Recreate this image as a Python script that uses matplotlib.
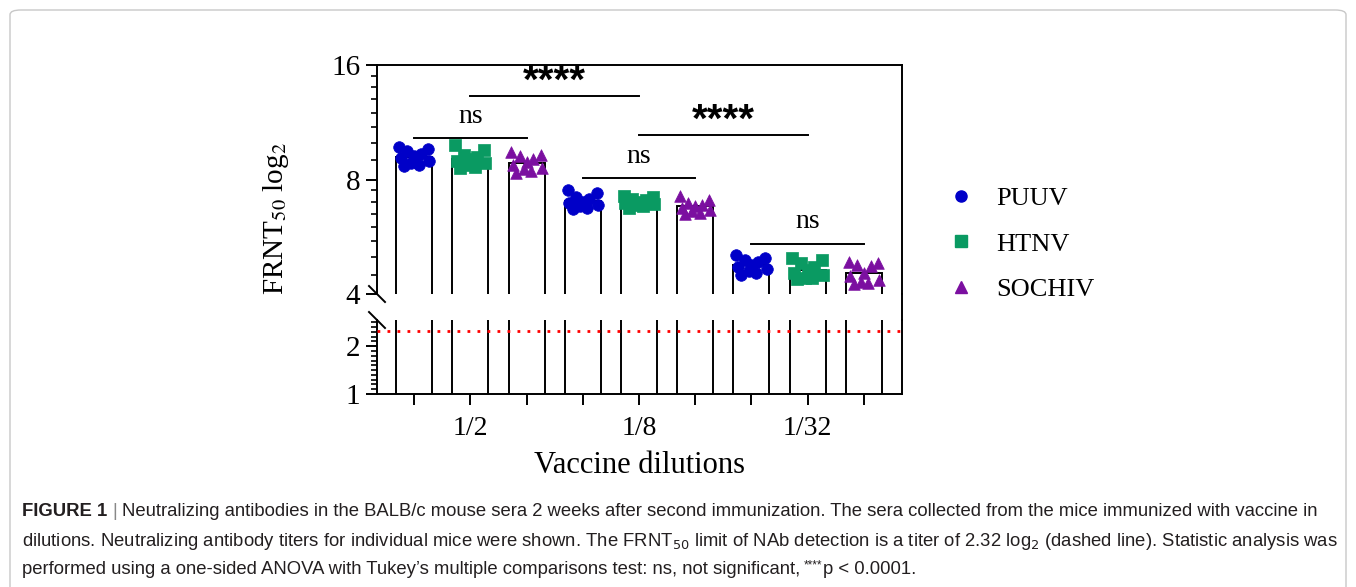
import numpy as np
import matplotlib
matplotlib.use("Agg")
import matplotlib.pyplot as plt
from matplotlib.lines import Line2D
from matplotlib.patches import FancyBboxPatch
from matplotlib.ticker import FixedLocator, NullFormatter

plt.rcParams['font.family'] = ['Liberation Serif', 'DejaVu Serif']
plt.rcParams['mathtext.fontset'] = 'stix'

# ---- data (FRNT50 log2 titers per mouse) ----
dilutions = ['1/2', '1/8', '1/32']
viruses = ['PUUV', 'HTNV', 'SOCHIV']

puuv = [
    [9.75, 9.6, 9.5, 9.35, 9.2, 9.1, 8.95, 8.85, 8.75, 8.7],
    [7.5, 7.35, 7.2, 7.1, 7.0, 6.95, 6.85, 6.8, 6.75, 6.7],
    [5.05, 4.98, 4.9, 4.85, 4.78, 4.72, 4.65, 4.6, 4.55, 4.5],
]
htnv = [
    [9.85, 9.55, 9.3, 9.15, 9.05, 8.95, 8.85, 8.75, 8.65, 8.6],
    [7.25, 7.2, 7.1, 7.05, 7.0, 6.95, 6.9, 6.85, 6.8, 6.75],
    [4.98, 4.9, 4.82, 4.7, 4.62, 4.55, 4.48, 4.42, 4.4, 4.38],
]
sochiv = [
    [9.45, 9.3, 9.2, 9.05, 8.9, 8.75, 8.6, 8.5, 8.4, 8.3],
    [7.25, 7.05, 6.95, 6.85, 6.8, 6.75, 6.65, 6.6, 6.55, 6.5],
    [4.85, 4.82, 4.78, 4.75, 4.55, 4.45, 4.35, 4.3, 4.28, 4.25],
]

detection_limit = 2.32

# significance brackets: (from bar, to bar, height, label)
sig_pairs = [
    (0, 2, 10.26, 'ns'),
    (1, 4, 13.25, '****'),
    (3, 5, 8.05, 'ns'),
    (4, 7, 10.45, '****'),
    (6, 8, 5.43, 'ns'),
]

# ---- styles ----
colors = {'PUUV': '#0000C8', 'HTNV': '#0A9A62', 'SOCHIV': '#7B0FA0'}
markers = {'PUUV': 'o', 'HTNV': 's', 'SOCHIV': '^'}
jitter = np.array([-0.27, 0.25, -0.12, 0.12, 0.0, -0.24, 0.27, -0.05, 0.08, -0.18])

W, H = 1356, 587
fig = plt.figure(figsize=(W / 100, H / 100), dpi=100)


def fx(px):
    return px / W


def fy(py):
    return 1 - py / H


left, right = 377, 902
ax_top = fig.add_axes([fx(left), fy(294), fx(right - left), fy(65) - fy(294)])
ax_bot = fig.add_axes([fx(left), fy(394), fx(right - left), fy(320) - fy(394)])

series = {'PUUV': puuv, 'HTNV': htnv, 'SOCHIV': sochiv}
n_v = len(viruses)
bar_w = 0.64

for ax in (ax_top, ax_bot):
    for vi, v in enumerate(viruses):
        for di in range(len(dilutions)):
            xpos = di * n_v + vi
            vals = np.array(series[v][di])
            mean = vals.mean()
            ax.bar(xpos, mean - 0.5, bottom=0.5, width=bar_w, color='white',
                   edgecolor='black', linewidth=1.4, zorder=2)
            if ax is ax_top:
                ax.scatter(xpos + jitter, vals, s=70, marker=markers[v],
                           color=colors[v], edgecolors=colors[v],
                           linewidths=0.5, zorder=3)

ax_top.set_yscale('log', base=2)
ax_top.set_ylim(4, 16)
ax_top.yaxis.set_major_locator(FixedLocator([4, 8, 16]))
ax_top.set_yticklabels(['4', '8', '16'])
ax_top.yaxis.set_minor_locator(FixedLocator([4.5, 5, 5.5, 6, 6.5, 7, 7.5,
                                             9, 10, 11, 12, 13, 14, 15]))
ax_top.yaxis.set_minor_formatter(NullFormatter())

ax_bot.set_ylim(1, 2.55)
ax_bot.yaxis.set_major_locator(FixedLocator([1, 2]))
ax_bot.set_yticklabels(['1', '2'])
ax_bot.yaxis.set_minor_locator(FixedLocator(np.arange(1.1, 2.55, 0.1)))

xlim = (-0.66, 8.68)
for ax in (ax_top, ax_bot):
    ax.set_xlim(*xlim)
    for s in ax.spines.values():
        s.set_linewidth(1.4)
    ax.tick_params(axis='y', which='major', length=8, width=1.4,
                   labelsize=21, pad=4)
    ax.tick_params(axis='y', which='minor', length=4.5, width=1.2)

ax_top.spines['bottom'].set_visible(False)
ax_top.tick_params(axis='x', bottom=False, labelbottom=False)
ax_bot.spines['top'].set_visible(False)

n_bars = n_v * len(dilutions)
ax_bot.set_xticks(np.arange(n_bars))
ax_bot.set_xticklabels(['' if i % n_v != 1 else dilutions[i // n_v]
                        for i in range(n_bars)])
ax_bot.tick_params(axis='x', length=8, width=1.4, labelsize=20, pad=8)
ax_bot.set_xlabel('Vaccine dilutions', fontsize=22, labelpad=7)

# detection limit
ax_bot.axhline(detection_limit, color='red', lw=2.0, ls=(0, (1, 2.6)),
               zorder=4)

# significance brackets
for a, b, yv, lab in sig_pairs:
    ax_top.plot([a, b], [yv, yv], color='black', lw=1.4, zorder=4)
    if lab == 'ns':
        ax_top.annotate(lab, ((a + b) / 2, yv), xytext=(0, 16),
                        textcoords='offset points', ha='center', va='center',
                        fontsize=20)
    else:
        ax_top.annotate(lab, ((a + b) / 2, yv), xytext=(0, 10.5),
                        textcoords='offset points', ha='center', va='center',
                        fontsize=29, fontweight='bold',
                        family=['Liberation Sans', 'DejaVu Sans'])

fig.text(fx(276), fy(218), 'FRNT$_{50}$ log$_2$', rotation=90,
         ha='center', va='center', fontsize=21)

# break marks and continuous right spine
d = 8
for yb in (294, 320):
    fig.add_artist(Line2D([fx(left - d), fx(left + d)], [fy(yb - d), fy(yb + d)],
                          color='black', lw=1.4, transform=fig.transFigure))
fig.add_artist(Line2D([fx(right), fx(right)], [fy(294), fy(320)],
                      color='black', lw=1.4, transform=fig.transFigure))

# legend
handles = [Line2D([], [], ls='none', marker=markers[v], color=colors[v],
                  markersize=8) for v in viruses]
fig.legend(handles, viruses, loc='center left',
           bbox_to_anchor=(fx(935), fy(244)), frameon=False, fontsize=19,
           labelspacing=0.84, handlelength=1.0, handletextpad=0.82,
           borderpad=0)

# outer frame
fig.add_artist(FancyBboxPatch((fx(10), fy(620)), fx(1336), fy(10) - fy(620),
                              boxstyle='round,pad=0,rounding_size=0.008',
                              transform=fig.transFigure, fill=False,
                              edgecolor='#c8c8c8', lw=1.0))

# caption
cap_kw = dict(fontsize=13.3, family=['Liberation Sans', 'DejaVu Sans'],
              color='#231F20', va='center', ha='left',
              math_fontfamily='dejavusans')
renderer = fig.canvas.get_renderer()


def cap_run(x_px, y_px, s, **kw):
    opts = dict(cap_kw)
    opts.update(kw)
    t = fig.text(fx(x_px), fy(y_px), s, **opts)
    return t.get_window_extent(renderer).x1


x = cap_run(22, 512, 'FIGURE 1', fontweight='bold')
x = cap_run(x + 5, 512, '|', color='#888888')
cap_run(x + 5, 512, 'Neutralizing antibodies in the BALB/c mouse sera 2 weeks '
        'after second immunization. The sera collected from the mice '
        'immunized with vaccine in')
cap_run(22, 541, 'dilutions. Neutralizing antibody titers for individual mice '
        'were shown. The FRNT$_{50}$ limit of NAb detection is a titer of '
        '2.32 log$_2$ (dashed line). Statistic analysis was')
x = cap_run(22, 569, 'performed using a one-sided ANOVA with Tukey\u2019s '
            'multiple comparisons test: ns, not significant,')
x = cap_run(x + 4, 565, '****', fontsize=8.5)
cap_run(x, 569, 'p < 0.0001.')

fig.savefig('out.png', dpi=100)
